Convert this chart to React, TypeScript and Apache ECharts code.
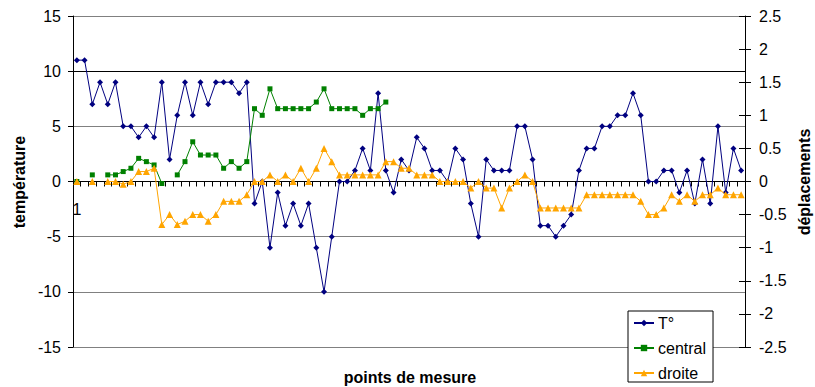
import { useEffect, useRef } from "react";
import * as echarts from "echarts";

// Température relevée à chaque point de mesure (axe de gauche, °)
const temperature: number[] = [
  11, 11, 7, 9, 7, 9, 5, 5, 4, 5, 4, 9, 2, 6, 9, 6, 9, 7,
  9, 9, 9, 8, 9, -2, 0, -6, -1, -4, -2, -4, -2, -6, -10, -5, 0, 0,
  1, 3, 1, 8, 1, -1, 2, 1, 4, 3, 1, 1, 0, 3, 2, -2, -5, 2,
  1, 1, 1, 5, 5, 2, -4, -4, -5, -4, -3, 1, 3, 3, 5, 5, 6, 6,
  8, 6, 0, 0, 1, 1, -1, 1, -2, 2, -2, 5, -1, 3, 1,
];

// Déplacement du capteur central (axe de droite) ; null = pas de mesure
const central: (number | null)[] = [
  0, null, 0.1, null, 0.1, 0.1, 0.15, 0.2, 0.35, 0.3, 0.25, -0.03, null, 0.1, 0.3, 0.6, 0.4, 0.4,
  0.4, 0.2, 0.3, 0.2, 0.3, 1.1, 1.0, 1.4, 1.1, 1.1, 1.1, 1.1, 1.1, 1.2, 1.4, 1.1, 1.1, 1.1,
  1.1, 1.0, 1.1, 1.1, 1.2,
];

// Déplacement du capteur droit (axe de droite)
const droite: (number | null)[] = [
  0, null, 0, null, 0, 0, -0.04, 0, 0.15, 0.15, 0.2, -0.65, -0.5, -0.65, -0.6, -0.5, -0.5, -0.6,
  -0.5, -0.3, -0.3, -0.3, -0.2, 0, 0, 0.1, 0, 0.1, 0, 0.2, 0, 0.2, 0.5, 0.3, 0.1, 0.1,
  0.1, 0.1, 0.1, 0.1, 0.3, 0.3, 0.2, 0.2, 0.1, 0.1, 0.1, 0, 0, 0, 0, -0.1, 0, -0.1,
  -0.1, -0.4, -0.1, 0, 0.1, 0, -0.4, -0.4, -0.4, -0.4, -0.4, -0.4, -0.2, -0.2, -0.2, -0.2, -0.2, -0.2,
  -0.2, -0.3, -0.5, -0.5, -0.4, -0.2, -0.3, -0.2, -0.3, -0.2, -0.2, -0.1, -0.2, -0.2, -0.2,
];

// Numéros des points de mesure
const points: string[] = temperature.map((_, i) => String(i + 1));

// Bornes et pas des deux axes verticaux
const tempAxis = { min: -15, max: 15, step: 5 };
const deplAxis = { min: -2.5, max: 2.5, step: 0.5 };

const FONT = "'Liberation Sans', Arial, sans-serif";
const GRID = { left: 73, right: 70, top: 16, bottom: 40 };
const PLOT_HEIGHT = 387 - GRID.top - GRID.bottom;
// the category axis crosses the temperature axis at 0
const ZERO_OFFSET =
  -PLOT_HEIGHT * ((0 - tempAxis.min) / (tempAxis.max - tempAxis.min));

export default function App() {
  const ref = useRef<HTMLDivElement>(null);

  useEffect(() => {
    if (!ref.current) return;
    const chart = echarts.init(ref.current, null, { renderer: "svg" });

    const labelStyle = {
      color: "#000",
      fontFamily: FONT,
      fontSize: 16,
    };

    chart.setOption({
      animation: false,
      backgroundColor: "#fff",
      textStyle: { fontFamily: FONT },
      grid: [
        { ...GRID, outerBoundsMode: "none" },
        { ...GRID, outerBoundsMode: "none" },
      ],
      xAxis: [
        {
          type: "category",
          gridIndex: 0,
          data: points,
          boundaryGap: true,
          position: "bottom",
          offset: ZERO_OFFSET,
          axisLine: {
            show: true,
            onZero: false,
            lineStyle: { color: "#000", width: 1 },
          },
          axisTick: {
            show: true,
            interval: 0,
            length: 5,
            lineStyle: { color: "#000", width: 1 },
          },
          axisLabel: {
            ...labelStyle,
            interval: (index: number) => index === 0,
            margin: 20,
          },
          splitLine: { show: false },
        },
        {
          type: "category",
          gridIndex: 1,
          data: points,
          show: false,
        },
      ],
      yAxis: [
        {
          type: "value",
          gridIndex: 0,
          position: "left",
          min: tempAxis.min,
          max: tempAxis.max,
          interval: tempAxis.step,
          axisLine: { show: true, lineStyle: { color: "#000", width: 1 } },
          axisTick: { show: true, length: 5, lineStyle: { color: "#000" } },
          axisLabel: { ...labelStyle, margin: 12, padding: [5, 0, 0, 0] },
          splitLine: {
            show: true,
            lineStyle: {
              color: ["#808080", "#808080", "#808080", "#808080", "#808080", "#000000", "#808080"],
              width: 1,
            },
          },
        },
        {
          type: "value",
          gridIndex: 0,
          position: "right",
          min: deplAxis.min,
          max: deplAxis.max,
          interval: deplAxis.step,
          axisLine: { show: true, lineStyle: { color: "#000", width: 1 } },
          axisTick: { show: true, length: 6, lineStyle: { color: "#000" } },
          axisLabel: { ...labelStyle, margin: 14, padding: [5, 0, 0, 0] },
          splitLine: { show: false },
        },
        {
          // inner half of the crossing ticks on the right axis
          type: "value",
          gridIndex: 1,
          position: "right",
          min: deplAxis.min,
          max: deplAxis.max,
          interval: deplAxis.step,
          axisLine: { show: false },
          axisTick: { show: true, inside: true, length: 6, lineStyle: { color: "#000" } },
          axisLabel: { show: false },
          splitLine: { show: false },
        },
      ],
      legend: {
        orient: "vertical",
        left: 628,
        top: 311,
        padding: [3, 7, 0, 5],
        itemGap: 7,
        itemWidth: 20,
        itemHeight: 8,
        backgroundColor: "#fff",
        borderColor: "#000",
        borderWidth: 1,
        borderRadius: 0,
        textStyle: { ...labelStyle, lineHeight: 18, padding: [0, 0, 0, -1] },
        data: ["T°", "central", "droite"],
      },
      series: [
        {
          name: "T°",
          type: "line",
          xAxisIndex: 0,
          yAxisIndex: 0,
          data: temperature,
          symbol: "diamond",
          symbolSize: 6,
          showAllSymbol: true,
          connectNulls: false,
          lineStyle: { color: "#000080", width: 1 },
          itemStyle: { color: "#000080" },
          z: 2,
        },
        {
          name: "central",
          type: "line",
          xAxisIndex: 0,
          yAxisIndex: 1,
          data: central,
          symbol: "rect",
          symbolSize: 5,
          showAllSymbol: true,
          connectNulls: false,
          lineStyle: { color: "#008000", width: 1 },
          itemStyle: { color: "#008000" },
          z: 3,
        },
        {
          name: "droite",
          type: "line",
          xAxisIndex: 0,
          yAxisIndex: 1,
          data: droite,
          symbol: "triangle",
          symbolSize: 7,
          showAllSymbol: true,
          connectNulls: false,
          lineStyle: { color: "#FFA500", width: 1 },
          itemStyle: { color: "#FFA500" },
          z: 4,
        },
      ],
      graphic: [
        {
          type: "text",
          x: 19,
          y: 182,
          rotation: Math.PI / 2,
          style: {
            text: "température",
            font: `bold 16px ${FONT}`,
            fill: "#000",
            align: "center",
            verticalAlign: "middle",
            textAlign: "center",
            textVerticalAlign: "middle",
          },
        },
        {
          type: "text",
          x: 804,
          y: 182,
          rotation: Math.PI / 2,
          style: {
            text: "déplacements",
            font: `bold 16px ${FONT}`,
            fill: "#000",
            align: "center",
            verticalAlign: "middle",
            textAlign: "center",
            textVerticalAlign: "middle",
          },
        },
        {
          type: "text",
          x: 410,
          y: 377,
          style: {
            text: "points de mesure",
            font: `bold 16px ${FONT}`,
            fill: "#000",
            align: "center",
            verticalAlign: "middle",
            textAlign: "center",
            textVerticalAlign: "middle",
          },
        },
      ],
    });

    return () => chart.dispose();
  }, []);

  return (
    <div
      ref={ref}
      style={{ position: "fixed", left: 0, top: 0, width: 815, height: 387, background: "#fff" }}
    />
  );
}
